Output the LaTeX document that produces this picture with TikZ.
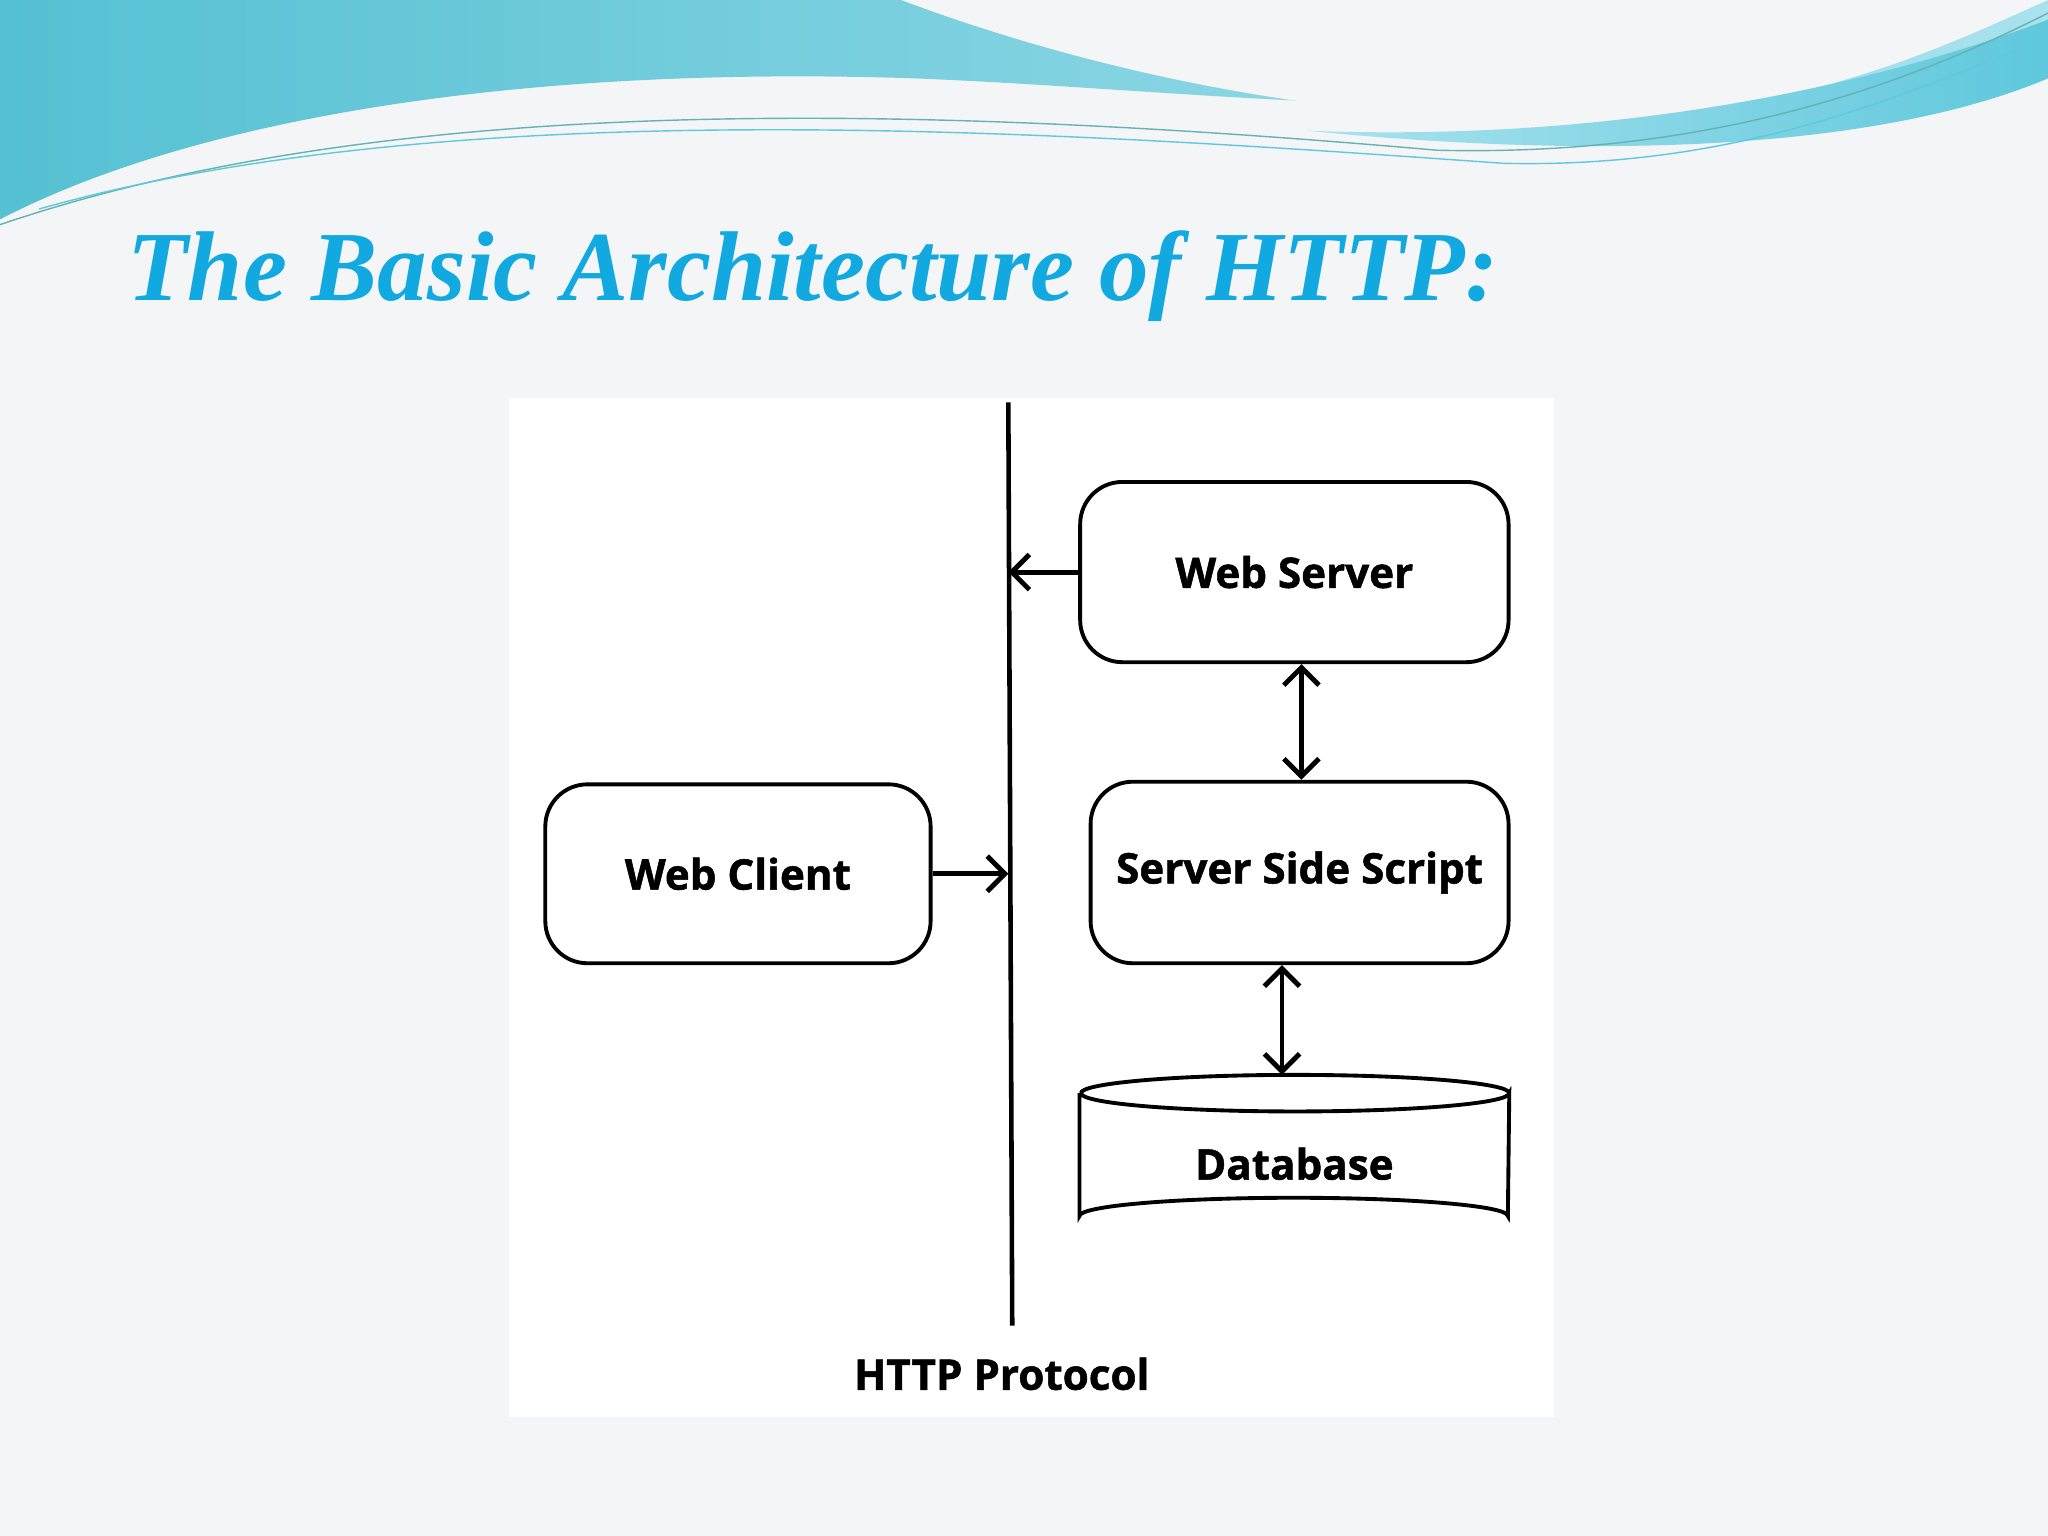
\documentclass[tikz,border=0pt]{standalone}
\usepackage{fontspec}
\setmainfont{Liberation Serif}
\setsansfont{Open Sans}[FakeBold=1.2]
\usetikzlibrary{arrows.meta}
\definecolor{slidebg}{HTML}{F4F5F7}
\definecolor{titlecyan}{HTML}{12A9E0}
\definecolor{waveA}{HTML}{5FC8DC}
\definecolor{waveB}{HTML}{A9E2EE}
\begin{document}
\begin{tikzpicture}[x=0.01306cm,y=-0.01306cm,
  box/.style={draw,line width=1.1pt,rounded corners=12pt,fill=white},
  lbl/.style={font=\sffamily\bfseries\fontsize{12}{14}\selectfont},
  link/.style={line width=1.4pt,-{Straight Barb[length=5pt,width=10pt]}},
  dlink/.style={line width=1.4pt,{Straight Barb[length=5pt,width=10pt]}-{Straight Barb[length=5pt,width=10pt]}}]
\fill[slidebg] (0,0) rectangle (1568,1176);
\useasboundingbox (0,0) rectangle (1568,1176);
% waves on top
\shade[left color=waveA!90!teal,right color=waveB] (0,0) -- (0,168) .. controls (150,90) and (400,50) .. (700,60)
  .. controls (950,70) and (1200,110) .. (1568,45) -- (1568,0) -- cycle;
\fill[slidebg] (690,0) .. controls (850,60) and (1050,100) .. (1250,90) .. controls (1400,80) and (1500,30) .. (1568,0) -- cycle;
\shade[left color=waveB,right color=waveA] (1000,100) .. controls (1250,110) and (1450,60) .. (1568,15) -- (1568,60)
  .. controls (1450,110) and (1250,125) .. (1000,100);
\draw[teal!60] (0,172) .. controls (300,70) and (700,80) .. (1100,115) .. controls (1300,120) and (1450,70) .. (1568,10);
\draw[waveA] (30,160) .. controls (350,70) and (800,100) .. (1150,125) .. controls (1350,130) and (1480,60) .. (1568,30);
% title
\node[anchor=base west,text=titlecyan,font=\bfseries\itshape\fontsize{28.2}{34}\selectfont,inner sep=0] (title) at (97,230) {The Basic Architecture of HTTP:};
% panel
\fill[white] (390,305) rectangle (1190,1085);
% nodes
\node[box,minimum width=328*0.01306cm,minimum height=138*0.01306cm,lbl] (WS) at (991,438) {Web Server};
\node[box,minimum width=320*0.01306cm,minimum height=139*0.01306cm,lbl] (SSS) at (995,668) {Server Side Script};
\node[box,minimum width=295*0.01306cm,minimum height=137*0.01306cm,lbl] (WC) at (565,669) {Web Client};
\node[lbl,minimum width=328*0.01306cm,minimum height=93*0.01306cm] (DB) at (991,884) {};
\coordinate (top) at (772,308);
\coordinate (bot) at (775,1015);
\node[lbl,anchor=north] (HTTP) at (767,1030) {HTTP Protocol};
% cylinder
\draw[line width=1.1pt,fill=white] (DB.north west) -- (DB.south west) arc[start angle=180,end angle=360,x radius=164,y radius=14]
  -- (DB.north east) arc[start angle=0,end angle=180,x radius=164,y radius=14];
\draw[line width=1.1pt] (DB.north east) arc[start angle=0,end angle=-180,x radius=164,y radius=14];
\node[lbl] (DBtext) at (991,891) {Database};
% protocol line
\draw[line width=1.3pt] (top) -- (bot);
\draw[link] (WS.west) -- (WS.west -| top);
\draw[link] (WC.east) -- (WC.east -| top);
\draw[dlink] ([xshift=2pt]WS.south) -- ([xshift=2pt]WS.south |- SSS.north);
\draw[dlink] ([xshift=-5pt]SSS.south) -- ([xshift=-5pt,yshift=14*0.01306cm]SSS.south |- DB.north);
\end{tikzpicture}
\end{document}
